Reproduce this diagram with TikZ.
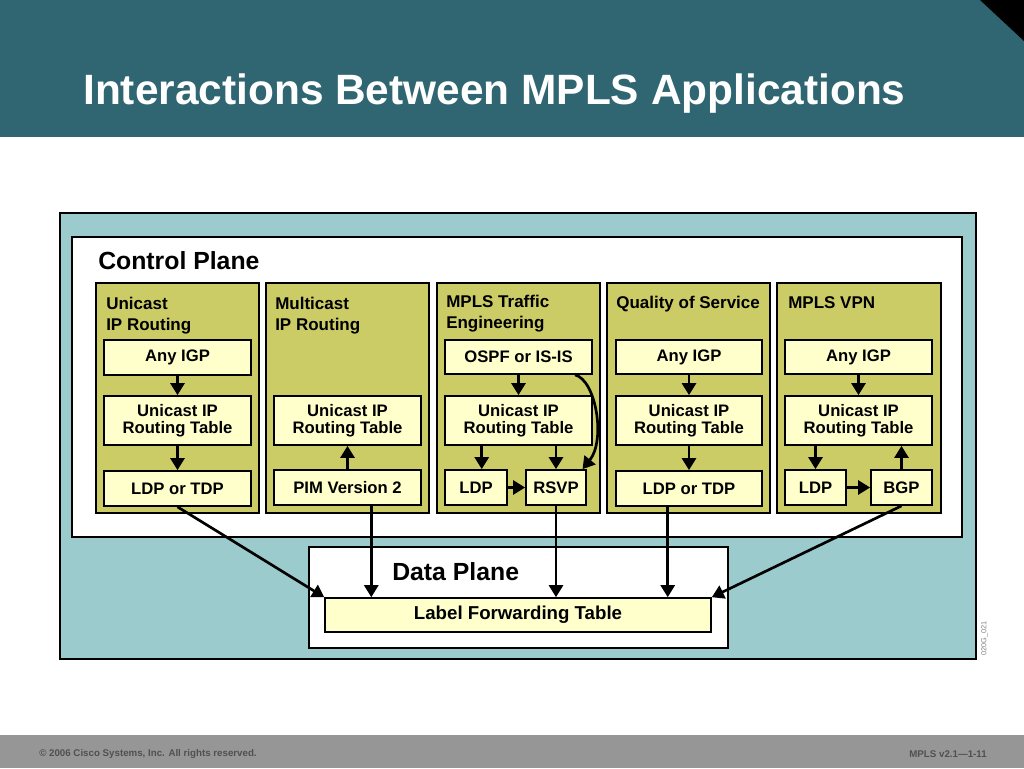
\documentclass[tikz,border=0pt]{standalone}
\usepackage{fontspec}
\setmainfont{Liberation Sans}
\usetikzlibrary{arrows.meta,fit,calc}
\definecolor{hdrc}{RGB}{47,102,114}
\definecolor{palec}{RGB}{155,203,205}
\definecolor{olvc}{RGB}{204,204,102}
\definecolor{ylwc}{RGB}{255,255,204}
\definecolor{footc}{RGB}{150,150,150}
\definecolor{foottxt}{RGB}{80,80,80}
\tikzset{
  colbox/.style={draw=black, fill=olvc, line width=1.8pt, inner sep=0pt},
  ibox/.style={draw=black, fill=ylwc, line width=1.3pt, inner sep=0pt, align=center,
    font=\fontsize{12.5}{13}\selectfont\bfseries},
  lbl/.style={font=\fontsize{12.75}{15.5}\selectfont\bfseries, anchor=base west, align=left, inner sep=0pt},
  big/.style={font=\fontsize{18.6}{20}\selectfont\bfseries, anchor=base west, inner sep=0pt},
  arr/.style={line width=2pt, -{Triangle[length=9pt,width=10.5pt]}},
  foot/.style={font=\fontsize{7.3}{8}\selectfont\bfseries, text=foottxt, inner sep=0pt}
}
% \mybox[options]{name}{x1}{y1}{x2}{y2}{text}
\newcommand{\mybox}[7][]{%
  \node[ibox, minimum width={(#5-#3)*0.75pt}, minimum height={(#6-#4)*0.75pt}, #1]
    (#2) at ({(#3+#5)/2},{(#4+#6)/2}) {#7};}
\begin{document}
\begin{tikzpicture}[x=0.75pt,y=-0.75pt]
\useasboundingbox (0,0) rectangle (1024,768);
\fill[white] (0,0) rectangle (1024,768);
% header
\fill[hdrc] (0,0) rectangle (1024,137);
\fill[black] (980,0) -- (1024,0) -- (1024,41) -- cycle;
\node[anchor=base west, inner sep=0pt, text=white, font=\fontsize{31.8}{34}\selectfont\bfseries] (title) at (83,104) {Interactions Between MPLS Applications};
% footer
\fill[footc] (0,735) rectangle (1024,768);
\node[foot, anchor=west] (copy) at (39,754) {© 2006 Cisco Systems, Inc. All rights reserved.};
\node[foot, anchor=east] (ver) at (987,754) {MPLS v2.1—1-11};
% outer frame
\node[draw=black, fill=palec, line width=2pt, inner sep=0pt, fit={(60,213) (976,659)}] (outer) {};
\node[rotate=90, text=gray, font=\fontsize{5.5}{6}\selectfont, inner sep=0pt] (code) at (984.5,638.5) {020G\_021};
% control plane
\node[draw=black, fill=white, line width=1.6pt, inner sep=0pt, fit={(72,237) (962,537)}] (cp) {};
\node[big] (cptxt) at (98,269) {Control Plane};
% columns
\node[colbox, fit={(96,283) (259,513)}] (c1) {};
\node[colbox, fit={(266,283) (429,513)}] (c2) {};
\node[colbox, fit={(437,283) (600,513)}] (c3) {};
\node[colbox, fit={(607,283) (770,513)}] (c4) {};
\node[colbox, fit={(777,283) (941,513)}] (c5) {};
\node[lbl] (l1) at (106,330) {Unicast\\IP Routing};
\node[lbl] (l2) at (275,330) {Multicast\\IP Routing};
\node[lbl] (l3) at (446,328) {MPLS Traffic\\Engineering};
\node[lbl] (l4) at (616,308) {Quality of Service};
\node[lbl] (l5) at (788,308) {MPLS VPN};
% column 1
\mybox{igp1}{104}{340}{251}{375}{Any IGP}
\mybox{rt1}{104}{396}{251}{445}{Unicast IP\\Routing Table}
\mybox{ldp1}{104}{471}{251}{506}{LDP or TDP}
% column 2
\mybox{rt2}{274}{396}{421}{445}{Unicast IP\\Routing Table}
\mybox{pim}{274}{470}{421}{505}{PIM Version 2}
% column 3
\mybox{ospf}{445}{340}{592}{374}{OSPF or IS-IS}
\mybox{rt3}{445}{396}{592}{445}{Unicast IP\\Routing Table}
\mybox{ldp3}{445}{470}{507}{505}{LDP}
\mybox{rsvp}{526}{470}{586}{505}{RSVP}
% column 4
\mybox{igp4}{616}{340}{762}{374}{Any IGP}
\mybox{rt4}{616}{396}{762}{445}{Unicast IP\\Routing Table}
\mybox{ldp4}{616}{471}{762}{506}{LDP or TDP}
% column 5
\mybox{igp5}{785}{340}{932}{374}{Any IGP}
\mybox{rt5}{785}{396}{932}{445}{Unicast IP\\Routing Table}
\mybox{ldp5}{785}{470}{846}{505}{LDP}
\mybox{bgp}{871}{470}{932}{505}{BGP}
% data plane
\node[draw=black, fill=white, line width=1.6pt, inner sep=0pt, fit={(309,547) (728,648)}] (dp) {};
\node[big] (dptxt) at (392,580) {Data Plane};
\mybox[line width=1.2pt, font=\fontsize{14}{16}\selectfont\bfseries]{lft}{325}{598}{711}{632}{Label Forwarding Table}
% arrows inside columns
\draw[arr] (igp1.south) -- (rt1.north);
\draw[arr] (rt1.south) -- (ldp1.north);
\draw[arr] (pim.north) -- (rt2.south);
\draw[arr] (ospf.south) -- (rt3.north);
\draw[arr] ([xshift=4.3pt]ldp3.north |- rt3.south) -- ([xshift=4.3pt]ldp3.north);
\draw[arr] (rsvp.north |- rt3.south) -- (rsvp.north);
\draw[arr] (ldp3.east) -- (rsvp.west);
\coordinate (cs) at ($(ospf.south west)!0.88!(ospf.south east)$);
\coordinate (ce) at ($(rsvp.north west)!0.93!(rsvp.north east)$);
\draw[arr] (cs) .. controls (596,380) and (606,440) .. (ce);
\draw[arr] (igp4.south) -- (rt4.north);
\draw[arr] (rt4.south) -- (ldp4.north);
\draw[arr] (igp5.south) -- (rt5.north);
\draw[arr] (ldp5.north |- rt5.south) -- (ldp5.north);
\draw[arr] (bgp.north) -- (bgp.north |- rt5.south);
\draw[arr] (ldp5.east) -- (bgp.west);
% arrows to data plane
\coordinate (s2) at ($(pim.south west)!0.66!(pim.south east)$);
\coordinate (s4) at ($(ldp4.south west)!0.356!(ldp4.south east)$);
\draw[arr] (ldp1.south) -- (lft.north west);
\draw[arr] (s2) -- (s2 |- lft.north);
\draw[arr] (rsvp.south) -- (rsvp.south |- lft.north);
\draw[arr] (s4) -- (s4 |- lft.north);
\draw[arr] (bgp.south) -- (lft.north east);
\end{tikzpicture}
\end{document}
